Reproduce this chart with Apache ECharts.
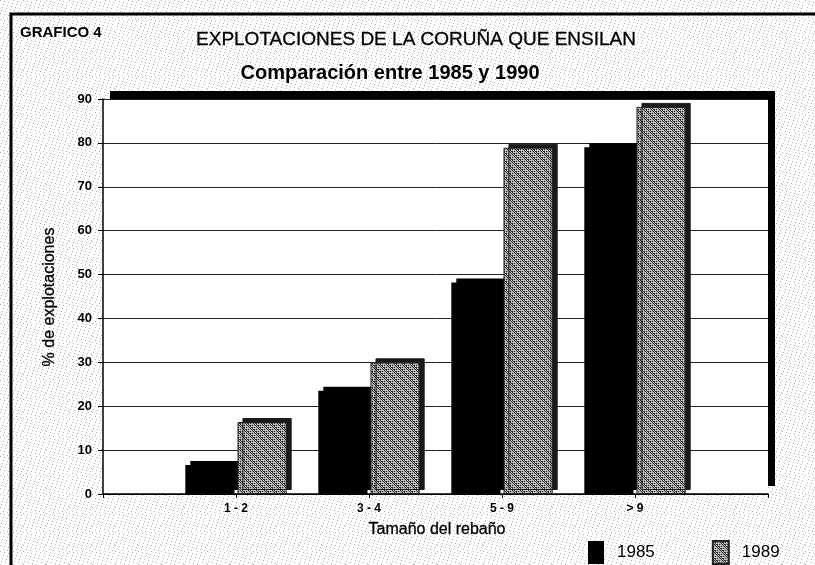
<!DOCTYPE html>
<html>
<head>
<meta charset="utf-8">
<script src="https://cdn.jsdelivr.net/npm/echarts@6/dist/echarts.min.js"></script>
<style>html,body{margin:0;padding:0;background:#fff}#c{width:815px;height:565px}</style>
</head>
<body>
<div id="c"></div>
<script>
// ---- data ----
const categories = ['', '1 - 2', '3 - 4', '5 - 9', '> 9', ''];
const series1985 = [null, 6.6, 23.5, 48.2, 79, null];
const series1989 = [null, 16.4, 30, 78.9, 88.2, null];
const seriesNames = ['1985', '1989'];
const yTicks = { min: 0, max: 90, interval: 10 };
const chartTitle = 'EXPLOTACIONES DE LA CORUÑA QUE ENSILAN';
const chartSubtitle = 'Comparación entre 1985 y 1990';
const chartLabel = 'GRAFICO 4';
const xName = 'Tamaño del rebaño';
const yName = '% de explotaciones';

// ---- textures ----
function grayPattern() {
  const n = 8;
  const c = document.createElement('canvas'); c.width = n; c.height = n;
  const ctx = c.getContext('2d');
  const lv = ['#2a2a2a', '#8a8a8a', '#c8c8c8', '#5a5a5a', '#a8a8a8', '#1a1a1a', '#dcdcdc', '#707070'];
  for (let y = 0; y < n; y++) for (let x = 0; x < n; x++) {
    ctx.fillStyle = lv[(x * 5 + y * 3 + ((x ^ y) & 3)) % 8];
    ctx.fillRect(x, y, 1, 1);
  }
  return c;
}
function speckle() {
  const c = document.createElement('canvas'); c.width = 23; c.height = 19;
  const ctx = c.getContext('2d');
  ctx.fillStyle = '#ffffff'; ctx.fillRect(0, 0, 23, 19);
  for (let y = 0; y < 19; y++) for (let x = 0; x < 23; x++) {
    if ((x * 7 + y * 11) % 13 === 0) { ctx.fillStyle = '#b0b0b0'; ctx.fillRect(x, y, 1, 1); }
  }
  return c;
}
const grayFill = { image: grayPattern(), repeat: 'repeat' };
const font = '"Liberation Sans", Arial, sans-serif';

const chart = echarts.init(document.getElementById('c'), null, { renderer: 'canvas' });
chart.setOption({
  backgroundColor: '#ffffff',
  animation: false,
  textStyle: { fontFamily: font, color: '#000' },
  graphic: [
    { type: 'rect', z: -100, shape: { x: 0, y: 0, width: 815, height: 565 }, style: { fill: { image: speckle(), repeat: 'repeat' } } },
    { type: 'rect', z: -99, shape: { x: 11, y: 14, width: 900, height: 700 }, style: { fill: null, stroke: '#000', lineWidth: 3 } },
    { type: 'rect', z: -98, shape: { x: 110, y: 91, width: 665, height: 395 }, style: { fill: '#000' } },
    { type: 'rect', z: -97, shape: { x: 103, y: 99, width: 665, height: 395 }, style: { fill: '#fff' } },
    { type: 'text', x: 20, y: 33, style: { text: chartLabel, font: 'bold 15px ' + font, fill: '#000', textAlign: 'left', textVerticalAlign: 'middle' } },
    { type: 'text', x: 416, y: 40, style: { text: chartTitle, font: '19px ' + font, fill: '#000', textAlign: 'center', textVerticalAlign: 'middle', stroke: '#000', lineWidth: 0.3 } },
    { type: 'text', x: 390, y: 73, style: { text: chartSubtitle, font: 'bold 20px ' + font, fill: '#000', textAlign: 'center', textVerticalAlign: 'middle' } },
    { type: 'text', x: 50, y: 297, rotation: Math.PI / 2, style: { text: yName, font: '16px ' + font, fill: '#000', textAlign: 'center', textVerticalAlign: 'middle', stroke: '#000', lineWidth: 0.3 } },
    { type: 'text', x: 437, y: 530, style: { text: xName, font: '16px ' + font, fill: '#000', textAlign: 'center', textVerticalAlign: 'middle', stroke: '#000', lineWidth: 0.3 } }
  ],
  legend: {
    left: 583, top: 535, itemWidth: 16, itemHeight: 23, itemGap: 57,
    icon: 'rect',
    textStyle: { fontSize: 17, fontFamily: font, color: '#000', padding: [0, 0, 0, 8] },
    data: seriesNames
  },
  grid: { left: 103, top: 99, right: 47, bottom: 71, containLabel: false },
  xAxis: {
    type: 'category', data: categories, boundaryGap: false,
    axisLine: { lineStyle: { color: '#000', width: 1.5 } },
    axisTick: { show: true, length: 4, lineStyle: { color: '#000' } },
    axisLabel: { fontSize: 12, fontWeight: 'bold', color: '#000', margin: 9, fontFamily: font, interval: 0 },
    splitLine: { show: false }
  },
  yAxis: {
    type: 'value', min: yTicks.min, max: yTicks.max, interval: yTicks.interval,
    axisLine: { show: true, lineStyle: { color: '#000', width: 1.5 } },
    axisTick: { show: true, length: 5, lineStyle: { color: '#000' } },
    axisLabel: { fontSize: 13, fontWeight: 'bold', color: '#000', margin: 11, fontFamily: font },
    splitLine: { show: true, lineStyle: { color: '#222', width: 1 } }
  },
  series: [
    {
      name: seriesNames[0], type: 'bar', data: series1985, barWidth: '37%', barGap: '6%',
      itemStyle: { color: '#000', shadowColor: '#000', shadowOffsetX: 5, shadowOffsetY: -4, shadowBlur: 0 }
    },
    {
      name: seriesNames[1], type: 'bar', data: series1989, barWidth: '37%', barGap: '6%',
      itemStyle: { color: grayFill, borderColor: '#222', borderWidth: 1, shadowColor: '#1a1a1a', shadowOffsetX: 5, shadowOffsetY: -4, shadowBlur: 0 }
    }
  ]
});
</script>
</body>
</html>
